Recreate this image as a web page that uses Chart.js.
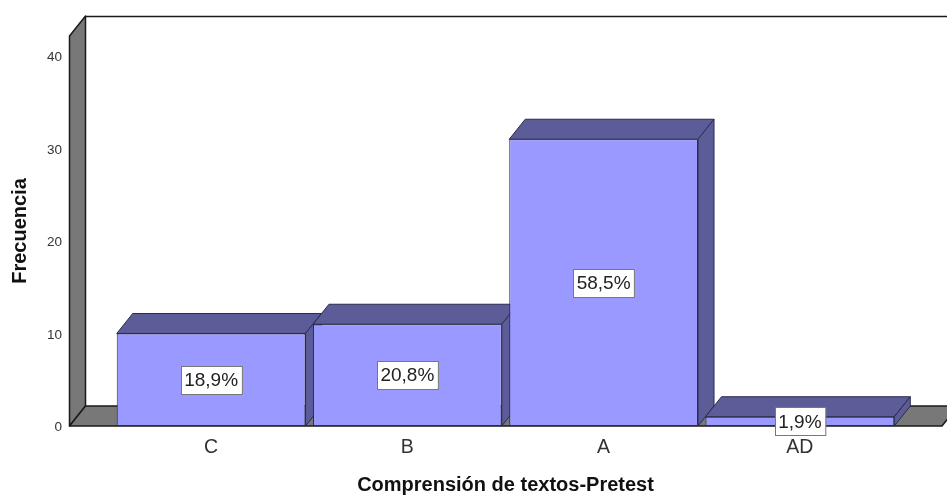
<!DOCTYPE html>
<html>
<head>
<meta charset="utf-8">
<title>Comprensión de textos-Pretest</title>
<script src="https://cdn.jsdelivr.net/npm/chart.js@4"></script>
<style>
  html, body { margin: 0; padding: 0; background: #fff; }
  canvas { display: block; }
</style>
</head>
<body>
<canvas id="chart" width="947" height="495"></canvas>
<script>
// datos
const categories = ['C', 'B', 'A', 'AD'];
const frecuencia = [10, 11, 31, 1];
const porcentajes = ['18,9%', '20,8%', '58,5%', '1,9%'];
const yMax = 42.16;
const yStep = 10;

const FONT = '"Liberation Sans", Arial, sans-serif';
const DEPTH_X = 16;
const DEPTH_Y = 20;

function poly(ctx, pts, fill, stroke, lw) {
  ctx.beginPath();
  pts.forEach((p, i) => (i ? ctx.lineTo(p[0], p[1]) : ctx.moveTo(p[0], p[1])));
  ctx.closePath();
  ctx.fillStyle = fill;
  ctx.fill();
  ctx.strokeStyle = stroke;
  ctx.lineWidth = lw || 1;
  ctx.lineJoin = 'round';
  ctx.stroke();
}

// paredes y suelo del grafico 3D
const walls = {
  id: 'walls',
  beforeDatasetsDraw(chart) {
    const { ctx, chartArea, scales } = chart;
    const base = scales.y.getPixelForValue(0);
    const top = scales.y.getPixelForValue(yMax);
    const left = chartArea.left - 43.5;
    const right = chart.width - 5;
    ctx.save();
    poly(ctx, [[left, top], [left + DEPTH_X, top - DEPTH_Y], [left + DEPTH_X, base - DEPTH_Y], [left, base]], '#787878', '#1a1a1a', 1.5);
    poly(ctx, [[left, base], [left + DEPTH_X, base - DEPTH_Y], [right + DEPTH_X, base - DEPTH_Y], [right, base]], '#787878', '#1a1a1a', 1.5);
    ctx.strokeStyle = '#1a1a1a';
    ctx.lineWidth = 1.5;
    ctx.beginPath();
    ctx.moveTo(left + DEPTH_X, top - DEPTH_Y + 0.5);
    ctx.lineTo(chart.width, top - DEPTH_Y + 0.5);
    ctx.stroke();
    ctx.restore();
  }
};

// caras superior y lateral de cada barra
const barSides = {
  id: 'barSides',
  beforeDatasetsDraw(chart) {
    const { ctx } = chart;
    ctx.save();
    chart.getDatasetMeta(0).data.forEach(bar => {
      const half = bar.width / 2;
      const l = bar.x - half;
      const r = bar.x + half;
      poly(ctx, [[l, bar.y], [l + DEPTH_X, bar.y - DEPTH_Y], [r + DEPTH_X, bar.y - DEPTH_Y], [r, bar.y]], '#5c5c99', '#2b2b4d');
      poly(ctx, [[r, bar.y], [r + DEPTH_X, bar.y - DEPTH_Y], [r + DEPTH_X, bar.base - DEPTH_Y], [r, bar.base]], '#5c5c99', '#2b2b4d');
    });
    ctx.restore();
  }
};

// etiquetas de porcentaje en el centro de cada barra
const percentLabels = {
  id: 'percentLabels',
  afterDatasetsDraw(chart) {
    const { ctx } = chart;
    ctx.save();
    ctx.font = '19px ' + FONT;
    ctx.textAlign = 'center';
    ctx.textBaseline = 'middle';
    chart.getDatasetMeta(0).data.forEach((bar, i) => {
      const w = ctx.measureText(porcentajes[i]).width + 7;
      const h = 28;
      const cy = (bar.y + bar.base) / 2;
      const x = Math.round(bar.x - w / 2) + 0.5;
      const y = Math.round(cy - h / 2) + 0.5;
      ctx.fillStyle = '#fff';
      ctx.fillRect(x, y, w, h);
      ctx.strokeStyle = '#777';
      ctx.lineWidth = 1;
      ctx.strokeRect(x, y, w, h);
      ctx.fillStyle = '#222';
      ctx.fillText(porcentajes[i], bar.x, cy + 1);
    });
    ctx.restore();
  }
};

new Chart(document.getElementById('chart'), {
  type: 'bar',
  data: {
    labels: categories,
    datasets: [{
      label: 'Frecuencia',
      data: frecuencia,
      backgroundColor: '#9999ff',
      borderColor: '#2b2b4d',
      borderWidth: 1,
      borderSkipped: false,
      barPercentage: 0.962,
      categoryPercentage: 1
    }]
  },
  options: {
    responsive: false,
    animation: false,
    layout: { padding: { top: 36, right: 49, left: 0, bottom: 0 } },
    plugins: { legend: { display: false }, tooltip: { enabled: false } },
    scales: {
      x: {
        grid: { display: false },
        border: { display: false },
        ticks: { color: '#333', padding: 2, maxRotation: 0, font: { family: FONT, size: 19.5 } },
        title: {
          display: true,
          text: 'Comprensión de textos-Pretest',
          color: '#111',
          padding: { top: 0, bottom: -2.5 },
          font: { family: FONT, size: 20, weight: 'bold' }
        },
        afterFit(scale) { scale.height = 69; }
      },
      y: {
        min: 0,
        max: yMax,
        bounds: 'data',
        grid: { display: false, drawTicks: false },
        border: { display: false },
        ticks: { stepSize: yStep, includeBounds: false, color: '#333', padding: 51, labelOffset: 1.5, font: { family: FONT, size: 13.5 } },
        title: {
          display: true,
          text: 'Frecuencia',
          color: '#111',
          padding: { top: 8, bottom: 0 },
          font: { family: FONT, size: 20, weight: 'bold' }
        },
        afterFit(scale) {
          scale.width = 113;
          // el padding de las etiquetas no debe empujar el area del grafico
          scale.paddingTop = 0;
          scale.paddingBottom = 0;
        }
      }
    }
  },
  plugins: [walls, barSides, percentLabels]
});
</script>
</body>
</html>
